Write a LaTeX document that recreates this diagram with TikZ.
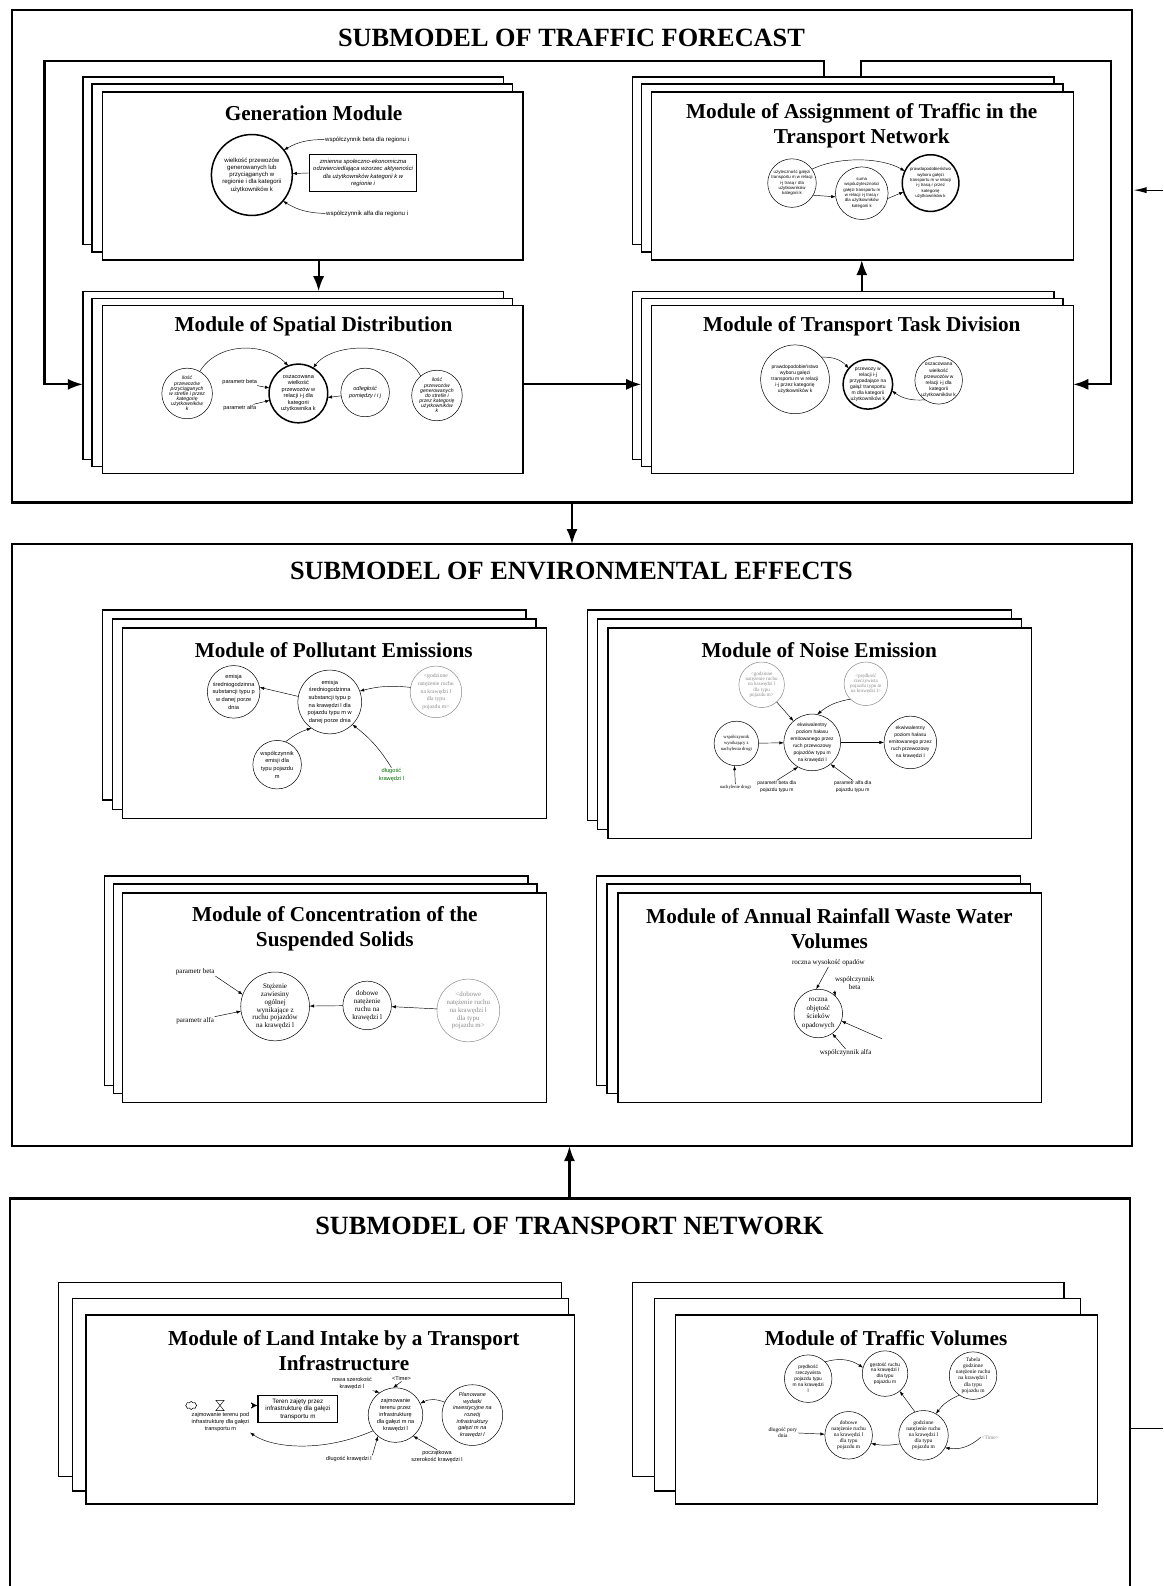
\documentclass[tikz,border=0pt]{standalone}
\usepackage{fontspec}
\setmainfont{Liberation Serif}
\setsansfont{Liberation Sans}
\usetikzlibrary{arrows.meta,shapes.symbols}
\tikzset{
 outerbox/.style={draw, line width=2.6pt, inner sep=0pt, outer sep=0pt},
 modbox/.style={draw, line width=1.3pt, fill=white, inner sep=0pt},
 bigtitle/.style={font=\bfseries\fontsize{26}{30}\selectfont, inner sep=0pt},
 modtitle/.style={font=\bfseries\fontsize{21}{24.5}\selectfont, align=center, inner sep=0pt},
 circ/.style={circle, draw, line width=0.5pt, inner sep=0pt, outer sep=0pt},
 thk/.style={line width=1.5pt},
 greyc/.style={draw=black!45},
 arr/.style={-{Latex[length=4.5pt,width=3.2pt]}, line width=0.45pt},
 bigarr/.style={-{Latex[length=15pt,width=11pt]}, line width=2.2pt},
 midarr/.style={-{Latex[length=13pt,width=6pt]}, line width=1.1pt},
 txgen/.style={font=\sffamily\fontsize{6}{7.2}\selectfont, align=center, inner sep=0.5pt},
 txgenit/.style={font=\sffamily\itshape\fontsize{5.8}{7}\selectfont, align=center, inner sep=0.5pt},
 txsp/.style={font=\sffamily\fontsize{5.5}{6.4}\selectfont, align=center, inner sep=0.5pt},
 txspit/.style={font=\sffamily\itshape\fontsize{5.1}{5.1}\selectfont, align=center, inner sep=0.5pt},
 txspitb/.style={font=\sffamily\itshape\fontsize{5.5}{6.6}\selectfont, align=center, inner sep=0.5pt},
 txasg/.style={font=\sffamily\fontsize{4.3}{5.3}\selectfont, align=center, inner sep=0.5pt},
 txtask/.style={font=\sffamily\fontsize{4.9}{6}\selectfont, align=center, inner sep=0.5pt},
 txpol/.style={font=\sffamily\fontsize{5.6}{7.6}\selectfont, align=center, inner sep=0.5pt},
 rmpolg/.style={font=\fontsize{5.6}{7.6}\selectfont, text=black!45, align=center, inner sep=0.5pt},
 txnoise/.style={font=\sffamily\fontsize{4.9}{7}\selectfont, align=center, inner sep=0.5pt},
 rmnoise/.style={font=\fontsize{4.6}{5.6}\selectfont, align=center, inner sep=0.5pt},
 rmnoiseg/.style={font=\fontsize{5}{5.2}\selectfont, text=black!45, align=center, inner sep=0.5pt},
 rmconc/.style={font=\fontsize{7}{7.8}\selectfont, align=center, inner sep=0.5pt},
 rmconcg/.style={font=\fontsize{6.8}{7.8}\selectfont, text=black!45, align=center, inner sep=0.5pt},
 rmrain/.style={font=\fontsize{7}{8.4}\selectfont, align=center, inner sep=0.5pt},
 txland/.style={font=\sffamily\fontsize{5.5}{7}\selectfont, align=center, inner sep=0.5pt},
 txlandr/.style={font=\sffamily\fontsize{6.2}{7.4}\selectfont, align=center, inner sep=0.5pt},
 txlandit/.style={font=\sffamily\itshape\fontsize{5.4}{6.5}\selectfont, align=center, inner sep=0.5pt},
 txvol/.style={font=\sffamily\fontsize{4.8}{5.8}\selectfont, align=center, inner sep=0.5pt},
 rmvol/.style={font=\fontsize{5.4}{6}\selectfont, align=center, inner sep=0.5pt},
}
\newcommand{\stk}[5]{\node[modbox, anchor=north west, minimum width=#4pt, minimum height=#5pt, outer sep=0pt] (#1) at (#2,#3) {};}
\newcommand{\cnode}[6]{\node[circ, minimum size=#3pt, #4] (#1) at (#2) {}; \node[#5] (#1-t) at (#1.center) {#6};}
\begin{document}
\begin{tikzpicture}[x=1pt,y=-1pt]
\useasboundingbox (0,0) rectangle (1150,1568);
\clip (0,0) rectangle (1150,1568);
\fill[white] (0,0) rectangle (1150,1568);

% ---------- outer submodel boxes ----------
\node[outerbox, anchor=north west, minimum width=1107pt, minimum height=487pt] (tf) at (12,10) {};
\node[bigtitle] (tf-title) at (565,37) {SUBMODEL OF TRAFFIC FORECAST};
\node[outerbox, anchor=north west, minimum width=1107pt, minimum height=595pt] (ee) at (12,538) {};
\node[bigtitle] (ee-title) at (565,565) {SUBMODEL OF ENVIRONMENTAL EFFECTS};
\draw[line width=2.6pt] (10,1620) -- (10,1185) -- (1117,1185) -- (1117,1620);
\coordinate (tn-top) at (563,1185);
\coordinate (tn-right) at (1117,1412);
\node[bigtitle] (tn-title) at (563,1212) {SUBMODEL OF TRANSPORT NETWORK};

% ---------- traffic forecast modules ----------
\stk{gen-b}{82}{76}{416}{166}\stk{gen-m}{91}{83}{416}{166}\stk{gen}{101}{91}{416}{166}
\node[modtitle] (gen-title) at (310,112) {Generation Module};
\stk{spat-b}{82}{288}{416}{166}\stk{spat-m}{91}{295}{416}{166}\stk{spat}{101}{302}{416}{166}
\node[modtitle] (spat-title) at (310,323) {Module of Spatial Distribution};
\stk{asg-b}{625}{76}{417}{166}\stk{asg-m}{634}{83}{417}{166}\stk{asg}{644}{91}{417}{166}
\node[modtitle] (asg-title) at (852,124) {Module of Assignment of Traffic in the\\Transport Network};
\stk{task-b}{625}{288}{417}{166}\stk{task-m}{634}{295}{417}{166}\stk{task}{644}{302}{417}{166}
\node[modtitle] (task-title) at (852,323) {Module of Transport Task Division};

% generation
\cnode{g1}{249,173}{80}{thk}{txgen}{wielkość przewozów\\generowanych lub\\przyciąganych w\\regionie i dla kategorii\\użytkowników k}
\node[txgen] (gbeta) at (363,138) {współczynnik beta dla regionu i};
\node[draw, line width=0.5pt, minimum width=106pt, minimum height=37pt, txgenit] (grect) at (359,171) {zmienna społeczno-ekonomiczna\\odzwierciedlająca wzorzec aktywności\\dla użytkowników kategorii k w\\regionie i};
\node[txgen] (galfa) at (363,211) {współczynnik alfa dla regionu i};
\draw[arr] (gbeta.west) to[bend right=15] (g1.38);
\draw[arr] (grect.west) -- (g1);
\draw[arr] (galfa.west) to[bend left=15] (g1.-40);

% spatial distribution
\cnode{s1}{185,389}{50}{}{txspit}{ilość\\przewozów\\przyciąganych\\w strefie i przez\\kategorię\\użytkowników\\k}
\cnode{s2}{295,389}{58}{thk}{txsp}{oszacowana\\wielkość\\przewozów w\\relacji i-j dla\\kategorii\\użytkownika k}
\cnode{s3}{361,388}{48}{}{txspitb}{odległość\\pomiędzy i i j}
\cnode{s4}{432,391}{50}{}{txspit}{ilość\\przewozów\\generowanych\\do strefie i\\przez kategorię\\użytkowników\\k}
\node[txsp] (sbeta) at (237,378) {parametr beta};
\node[txsp] (salfa) at (237,403) {parametr alfa};
\draw[arr] (sbeta) -- (s2);
\draw[arr] (salfa) -- (s2);
\draw[arr] (s3.188) -- (s2.-8);
\draw[arr] (s1.60) .. controls (215,338) and (262,338) .. (s2.110);
\draw[arr] (s4.130) .. controls (398,337) and (330,337) .. (s2.60);

% assignment
\cnode{a1}{783,181}{48}{}{txasg}{użyteczność gałęzi\\transportu m w relacji\\i-j trasą r dla\\użytkowników\\kategorii k}
\cnode{a2}{852,191}{52}{}{txasg}{suma\\wspóużyteczności\\gałęzi transportu m\\w relacji i-j trasą r\\dla użytkowników\\kategorii k}
\cnode{a3}{920,181}{56}{thk}{txasg}{prawdopodobieństwo\\wyboru gałęzi\\transportu m w relacji\\i-j trasą r przez\\kategorię\\użytkowników k}
\draw[arr] (a1.35) .. controls (828,155) and (870,155) .. (a3.155);
\draw[arr] (a1.-30) -- (a2.188);
\draw[arr] (a2.-12) -- (a3.198);

% task division
\cnode{t1}{786,375}{68}{}{txtask}{prawdopodobieństwo\\wyboru gałęzi\\transportu m w relacji\\i-j przez kategorię\\użytkowników k}
\cnode{t2}{858,380}{49}{thk}{txtask}{przewozy w\\relacji i-j\\przypadające na\\gałąź transportu\\m dla kategorii\\użytkowników k}
\cnode{t3}{928,376}{47}{}{txtask}{oszacowana\\wielkość\\przewozów w\\relacji i-j dla\\kategorii\\użytkowników k}
\draw[arr] (t1.40) to[bend left=25] (t2.140);
\draw[arr] (t3.235) to[bend left=20] (t2.-15);

% connectors of traffic forecast
\coordinate (gx) at (315,0);
\coordinate (tx) at (852,0);
\coordinate (ly) at (0,380);
\coordinate (lA) at (815,60);
\coordinate (lB) at (44,60);
\coordinate (rA) at (851,60);
\coordinate (rB) at (1098,60);
\draw[bigarr] (gx |- gen.south) -- (gx |- spat-b.north);
\draw[bigarr] (tx |- task-b.north) -- (tx |- asg.south);
\draw[bigarr] (ly -| spat.east) -- (ly -| task-m.west);
\draw[bigarr] (lA |- asg-b.north) -- (lA) -- (lB) -- (lB |- ly) -- (ly -| spat-b.west);
\draw[bigarr] (rA |- asg-b.north) -- (rA) -- (rB) -- (rB |- ly) -- (ly -| task.east);

% ---------- environmental effects modules ----------
\stk{pol-b}{101}{603}{419}{188}\stk{pol-m}{111}{612}{419}{188}\stk{pol}{121}{621}{419}{188}
\node[modtitle] (pol-title) at (330,643) {Module of Pollutant Emissions};
\stk{noi-b}{581}{603}{419}{208}\stk{noi-m}{591}{612}{419}{208}\stk{noi}{601}{621}{419}{208}
\node[modtitle] (noi-title) at (810,643) {Module of Noise Emission};
\stk{con-b}{103}{866}{419}{207}\stk{con-m}{112}{874}{419}{207}\stk{con}{121}{883}{419}{207}
\node[modtitle] (con-title) at (331,918) {Module of Concentration of the\\Suspended Solids};
\stk{rai-b}{590}{866}{419}{207}\stk{rai-m}{600}{874}{419}{207}\stk{rai}{611}{883}{419}{207}
\node[modtitle] (rai-title) at (820,918) {Module of Annual Rainfall Waste Water\\Volumes};

% pollutant
\cnode{p1}{231,684}{52}{}{txpol}{emisja\\średniogodzinna\\substancji typu p\\w danej porze\\dnia}
\cnode{p2}{326,694}{63}{}{txpol}{emisja\\średniogodzinna\\substancji typu p\\na krawędzi l dla\\pojazdu typu m w\\danej porze dnia}
\cnode{p3}{431,684}{51}{greyc}{rmpolg}{<godzinne\\natężenie ruchu\\na krawędzi l\\dla typu\\pojazdu m>}
\cnode{p4}{274,756}{48}{}{txpol}{współczynnik\\emisji dla\\typu pojazdu\\m}
\node[txpol, text=green!45!black] (p5) at (387,766) {długość\\krawędzi l};
\draw[arr] (p2.170) -- (p1.10);
\draw[arr] (p3.170) to[bend right=10] (p2.20);
\draw[arr] (p4.70) to[bend left=10] (p2.235);
\draw[arr] (p5.north) to[bend right=10] (p2.-45);

% noise
\cnode{n1}{753,677}{45}{greyc}{rmnoiseg}{<godzinne\\natężenie ruchu\\na krawędzi l\\dla typu\\pojazdu m>}
\cnode{n2}{856,676}{43}{greyc}{rmnoiseg}{<prędkość\\rzeczywista\\pojazdu typu m\\na krawędzi l>}
\cnode{n3}{728,735}{44}{}{rmnoise}{współczynnik\\wynikający z\\nachylenia drogi}
\cnode{n4}{803,734}{56}{}{txnoise}{ekwiwalentny\\poziom hałasu\\emitowanego przez\\ruch przewozowy\\pojazdów typu m\\na krawędzi l}
\cnode{n5}{900,734}{52}{}{txnoise}{ekwiwalentny\\poziom hałasu\\emitowanego przez\\ruch przewozowy\\na krawędzi l}
\node[rmnoise] (n6) at (727,778) {nachylenie drogi};
\node[txnoise] (n7) at (768,778) {parametr beta dla\\pojazdu typu m};
\node[txnoise] (n8) at (843,778) {parametr alfa dla\\pojazdu typu m};
\draw[arr] (n1) -- (n4);
\draw[arr] (n2.225) to[bend right=15] (n4.80);
\draw[arr] (n3) -- (n4);
\draw[arr] (n4) -- (n5);
\draw[arr] (n6.north) -- (n3.265);
\draw[arr] (n7.north) -- (n4.240);
\draw[arr] (n8.north) -- (n4.-50);

% concentration
\node[rmconc] (c1) at (193,961) {parametr beta};
\node[rmconc] (c2) at (193,1009) {parametr alfa};
\cnode{c3}{272,995}{68}{}{rmconc}{Stężenie\\zawiesiny\\ogólnej\\wynikające z\\ruchu pojazdów\\na krawędzi l}
\cnode{c4}{363,994}{48}{}{rmconc}{dobowe\\natężenie\\ruchu na\\krawędzi l}
\cnode{c5}{463,999}{62}{greyc}{rmconcg}{<dobowe\\natężenie ruchu\\na krawędzi l\\dla typu\\pojazdu m>}
\draw[arr] (c1.south east) -- (c3.160);
\draw[arr] (c2.north east) -- (c3.188);
\draw[arr] (c4) -- (c3);
\draw[arr] (c5) -- (c4);

% rainfall
\node[rmrain] (r1) at (819,952) {roczna wysokość opadów};
\node[rmrain] (r2) at (845,972) {współczynnik\\beta};
\cnode{r3}{809,1002}{48}{}{rmrain}{roczna\\objętość\\ścieków\\opadowych}
\node[rmrain] (r4) at (836,1041) {współczynnik alfa};
\coordinate (rfree) at (872,1027);
\draw[arr] (r1.south) -- (r3.95);
\draw[arr] (r2.south west) -- (r3.45);
\draw[arr] (r4.north) -- (r3.-55);
\draw[arr] (rfree) -- (r3.-18);

% ---------- transport network modules ----------
\stk{lan-b}{58}{1268}{497}{192}\stk{lan-m}{72}{1284}{490}{190}\stk{lan}{85}{1300}{483}{187}
\node[modtitle] (lan-title) at (340,1335) {Module of Land Intake by a Transport\\Infrastructure};
\stk{vol-b}{625}{1268}{427}{192}\stk{vol-m}{647}{1284}{421}{190}\stk{vol}{668}{1300}{417}{187}
\node[modtitle] (vol-title) at (876,1323) {Module of Traffic Volumes};

% land intake
\node[cloud, draw, cloud puffs=8, minimum width=11pt, minimum height=8pt, inner sep=0pt, line width=0.5pt] (lcloud) at (189,1389.5) {};
\node[draw, line width=1.3pt, minimum width=79pt, minimum height=27pt, txlandr] (lrect) at (294.5,1393) {Teren zajęty przez\\infrastrukturę dla gałęzi\\transportu m};
\draw[-{Latex[length=6pt,width=6pt]}, line width=0.3pt] (lcloud.east) -- (lrect.west |- lcloud);
\draw[double, double distance=2.2pt, line width=0.5pt, shorten >=5pt] (lcloud.east) -- (lrect.west |- lcloud);
\draw[fill=white, line width=0.5pt] (213.5,1384.5) -- (221.5,1384.5) -- (213.5,1394.5) -- (221.5,1394.5) -- cycle;
\node[txland] (lvt) at (218,1406) {zajmowanie terenu pod\\infrastrukturę dla gałęzi\\transportu m};
\cnode{lc}{391,1399}{54}{}{txland}{zajmowanie\\terenu przez\\infrastrukturę\\dla gałęzi m na\\krawędzi l}
\cnode{lp}{467,1399}{60}{}{txlandit}{Planowane\\wydatki\\inwestycyjne na\\rozwój\\infrastruktury\\gałęzi m na\\krawędzi l}
\node[txland] (lnw) at (348,1368) {nowa szerokość\\krawędzi l};
\node[txland] (ltime) at (397,1363) {<Time>};
\node[txland] (ldl) at (345,1442) {długość krawędzi l};
\node[txland] (lps) at (432,1440) {początkowa\\szerokość krawędzi l};
\draw[arr] (lc.215) .. controls (320,1436) and (270,1432) .. (lvt.south east);
\draw[arr] (lp.155) to[bend right=25] (lc.25);
\draw[arr] (lnw.south east) -- (lc.125);
\draw[arr] (ltime.south) -- (lc.95);
\draw[arr] (ldl.north east) -- (lc.230);
\draw[arr] (lps.north) -- (lc.-50);

% traffic volumes
\cnode{v1}{799,1363}{47}{}{txvol}{prędkość\\rzeczywista\\pojazdu typu\\m na krawędzi\\l}
\cnode{v2}{875,1358}{45}{}{txvol}{gęstość ruchu\\na krawędzi l\\dla typu\\pojazdu m}
\cnode{v3}{962,1360}{47}{}{rmvol}{Tabela\\godzinne\\natężenie ruchu\\na krawędzi l\\dla typu\\pojazdu m}
\cnode{v4}{839,1419}{47}{}{rmvol}{dobowe\\natężenie ruchu\\na krawędzi l\\dla typu\\pojazdu m}
\cnode{v5}{913,1419}{49}{}{rmvol}{godzinne\\natężenie ruchu\\na krawędzi l\\dla typu\\pojazdu m}
\node[rmvol] (v6) at (774,1416) {długość pory\\dnia};
\node[rmvol, text=black!45] (v7) at (979,1421) {<Time>};
\draw[arr] (v1.45) to[bend left=25] (v2.165);
\draw[arr] (v5.110) -- (v2.-50);
\draw[arr] (v3.235) to[bend right=15] (v5.60);
\draw[arr] (v5.200) to[bend left=10] (v4.-20);
\draw[arr] (v6) -- (v4);
\draw[arr] (v7.west) to[bend left=25] (v5.-30);

% ---------- links between submodels ----------
\draw[bigarr] (tf.south) -- (ee.north);
\draw[bigarr] (tn-top) -- (tn-top |- ee.south);
\coordinate (ext-top) at (1150,188);
\coordinate (ext-bot) at (1150,1412);
\draw[midarr, shorten >=1.5pt] (ext-top) -- (tf.east |- ext-top);
\draw[line width=1pt] (tn-right) -- (ext-bot);
\end{tikzpicture}
\end{document}
